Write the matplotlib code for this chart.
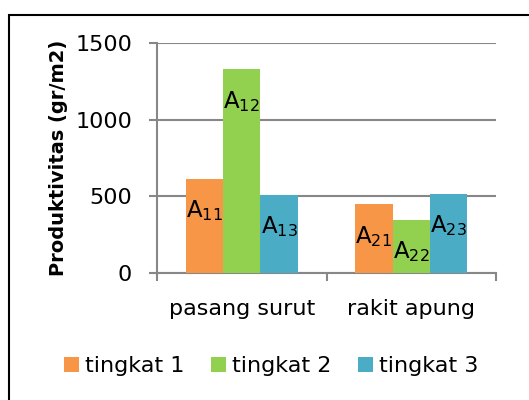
import matplotlib
matplotlib.use("Agg")
import matplotlib.pyplot as plt
from matplotlib.patches import Rectangle
from matplotlib.ticker import FixedLocator
import numpy as np

# ---------------------------------------------------------------------------
# Data
# ---------------------------------------------------------------------------
categories = ["pasang surut", "rakit apung"]
series_names = ["tingkat 1", "tingkat 2", "tingkat 3"]
tingkat1 = [615, 448]
tingkat2 = [1328, 346]
tingkat3 = [509, 515]
label_t1 = ["11", "21"]
label_t2 = ["12", "22"]
label_t3 = ["13", "23"]
y_ticks = [0, 500, 1000, 1500]

colors = ["#F79646", "#92D050", "#4BACC6"]
grid_col = "#878787"

plt.rcParams["font.family"] = "DejaVu Sans"

fig = plt.figure(figsize=(5.29, 4.00), dpi=100, facecolor="white")
W, H = 529, 400
ax = fig.add_axes([157 / W, 1 - 273 / H, (496 - 157) / W, (273 - 43) / H])

x = np.arange(len(categories))
bw = 0.221
series = [tingkat1, tingkat2, tingkat3]
sublabels = [label_t1, label_t2, label_t3]

for i, (vals, subs) in enumerate(zip(series, sublabels)):
    bars = ax.bar(x + (i - 1) * bw, vals, width=bw, color=colors[i],
                  label=series_names[i], zorder=3)
    for rect, s in zip(bars, subs):
        ax.annotate(r"$\mathregular{A_{%s}}$" % s,
                    xy=(rect.get_x() + rect.get_width() / 2, rect.get_height()),
                    xytext=(0, -23), textcoords="offset points",
                    ha="center", va="center", fontsize=16.5, zorder=4)

ax.set_xlim(-0.5, len(categories) - 0.5)
ax.set_ylim(0, 1500)
ax.set_yticks(y_ticks)
ax.set_yticklabels([str(t) for t in y_ticks], fontsize=16)
ax.yaxis.grid(True, color=grid_col, linewidth=1.5, zorder=0)

ax.set_xticks(x)
ax.set_xticklabels(categories, fontsize=16)
ax.xaxis.set_minor_locator(FixedLocator(np.arange(-0.5, len(categories), 1.0)))
ax.tick_params(axis="x", which="major", length=0, pad=19)
ax.tick_params(axis="x", which="minor", length=6, width=1.5, color=grid_col,
               direction="out")
ax.tick_params(axis="y", length=6, width=1.5, color=grid_col, pad=12)

for side in ("top", "right"):
    ax.spines[side].set_visible(False)
for side in ("left", "bottom"):
    ax.spines[side].set_color(grid_col)
    ax.spines[side].set_linewidth(1.5)

ax.set_ylabel("Produktivitas (gr/m2)", fontsize=14, fontweight="bold",
              labelpad=5)

leg = fig.legend(loc="center", bbox_to_anchor=(0.513, 1 - 366 / H), ncol=3,
                 frameon=False, fontsize=16, handlelength=0.67,
                 handleheight=0.67, handletextpad=0.27, columnspacing=1.2)

# outer black frame (right and bottom edges fall outside the picture)
fig.patches.append(Rectangle((9 / W, -0.1), 1.2, 1.1 - 15 / H,
                             transform=fig.transFigure, fill=False,
                             edgecolor="black", linewidth=1.5))

fig.savefig("out.png", dpi=100, facecolor="white")
